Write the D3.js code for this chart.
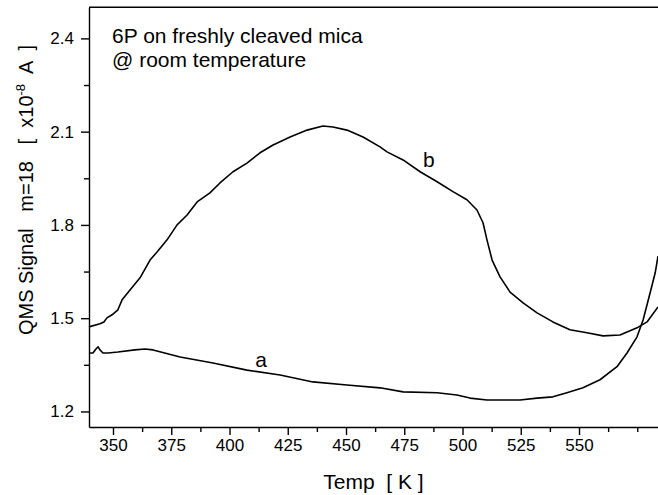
<!DOCTYPE html>
<html>
<head>
<meta charset="utf-8">
<script src="https://cdn.jsdelivr.net/npm/d3@7"></script>
<style>
  body { margin: 0; background: #fff; }
  svg { display: block; font-family: "Liberation Sans", Arial, sans-serif; }
  .axis path, .axis line { stroke: #000; stroke-width: 1.4px; }
  .axis text { font-size: 17px; fill: #000; font-family: "Liberation Sans", Arial, sans-serif; }
</style>
</head>
<body>
<script>
// temperature [K] and QMS signal [x10^-8 A]
var tempB = [339.7, 344.4, 346.1, 347.4, 349.6, 352.1, 353.9, 357.3, 361.6, 365.9, 368.9, 373.2,
  377.5, 381.8, 386.1, 391.6, 395.9, 401.5, 407.5, 413.1, 418.7, 426.0, 433.3, 440.1, 444.4,
  450.4, 457.3, 464.6, 467.6, 474.5, 481.8, 489.1, 495.9, 501.9, 506.2, 508.8, 510.5, 512.7,
  516.1, 520.4, 526.0, 532.0, 538.8, 546.1, 553.4, 560.3, 567.6, 574.9, 579.2, 583.9];
var signalB = [1.472, 1.482, 1.488, 1.501, 1.511, 1.527, 1.559, 1.591, 1.630, 1.687, 1.713, 1.752,
  1.800, 1.832, 1.874, 1.903, 1.935, 1.971, 1.999, 2.032, 2.057, 2.083, 2.105, 2.118, 2.115,
  2.105, 2.083, 2.051, 2.035, 2.009, 1.971, 1.939, 1.907, 1.881, 1.848, 1.807, 1.752, 1.687,
  1.633, 1.584, 1.549, 1.517, 1.488, 1.463, 1.453, 1.443, 1.446, 1.469, 1.488, 1.536];

var tempA = [340.1, 341.4, 342.7, 343.6, 344.4, 345.7, 347.9, 352.1, 359.4, 363.7, 367.2, 378.8,
  392.9, 407.5, 421.7, 435.8, 450.4, 464.6, 474.5, 489.1, 497.6, 503.2, 510.5, 517.4, 524.7,
  532.0, 538.8, 544.8, 551.7, 559.0, 566.3, 570.6, 574.9, 577.5, 580.5, 582.7, 583.9];
var signalA = [1.388, 1.388, 1.401, 1.408, 1.398, 1.388, 1.388, 1.391, 1.398, 1.401, 1.398, 1.375,
  1.356, 1.333, 1.317, 1.295, 1.285, 1.276, 1.263, 1.260, 1.253, 1.243, 1.237, 1.237, 1.237,
  1.243, 1.247, 1.260, 1.276, 1.302, 1.344, 1.388, 1.440, 1.494, 1.581, 1.646, 1.700];

var xTicks = [350, 375, 400, 425, 450, 475, 500, 525, 550];
var xMinor = [362.5, 387.5, 412.5, 437.5, 462.5, 487.5, 512.5, 537.5, 562.5, 575];
var yTicks = [1.2, 1.5, 1.8, 2.1, 2.4];
var yMinor = [1.35, 1.65, 1.95, 2.25];

var series = [
  {name: "a", temp: tempA, signal: signalA, labelAt: [411, 1.343]},
  {name: "b", temp: tempB, signal: signalB, labelAt: [483, 1.986]}
];

var width = 658, height = 495;
var plotLeft = 89, plotRight = 658, plotTop = 7.3, plotBottom = 427;

var x = d3.scaleLinear().domain([339.7, 583.9]).range([plotLeft, plotRight]);
var y = d3.scaleLinear().domain([1.15, 2.5]).range([plotBottom, plotTop]);

var svg = d3.select("body").append("svg")
    .attr("width", width)
    .attr("height", height);

// frame (right side runs off the picture)
svg.append("line")
    .attr("x1", plotLeft).attr("x2", plotRight + 2)
    .attr("y1", plotTop).attr("y2", plotTop)
    .attr("stroke", "#000").attr("stroke-width", 1.4);

svg.append("g").attr("class", "axis")
    .attr("transform", "translate(0," + plotBottom + ")")
    .call(d3.axisBottom(x).tickValues(xMinor).tickSize(5).tickFormat(""))
    .select(".domain").remove();

svg.append("g").attr("class", "axis")
    .attr("transform", "translate(0," + plotBottom + ")")
    .call(d3.axisBottom(x).tickValues(xTicks).tickSize(8).tickSizeOuter(0).tickPadding(4).tickFormat(d3.format("d")));

svg.append("g").attr("class", "axis")
    .attr("transform", "translate(" + plotLeft + ",0)")
    .call(d3.axisLeft(y).tickValues(yMinor).tickSize(5).tickFormat(""))
    .select(".domain").remove();

svg.append("g").attr("class", "axis")
    .attr("transform", "translate(" + plotLeft + ",0)")
    .call(d3.axisLeft(y).tickValues(yTicks).tickSize(8).tickSizeOuter(0).tickPadding(7).tickFormat(d3.format(".1f")));

var line = d3.line()
    .x(function(d) { return x(d[0]); })
    .y(function(d) { return y(d[1]); });

svg.selectAll(".curve")
    .data(series)
  .enter().append("path")
    .attr("class", "curve")
    .attr("fill", "none")
    .attr("stroke", "#000")
    .attr("stroke-width", 1.6)
    .attr("stroke-linejoin", "round")
    .attr("d", function(s) { return line(d3.zip(s.temp, s.signal)); });

svg.selectAll(".curve-label")
    .data(series)
  .enter().append("text")
    .attr("class", "curve-label")
    .attr("x", function(s) { return x(s.labelAt[0]); })
    .attr("y", function(s) { return y(s.labelAt[1]); })
    .attr("font-size", 21)
    .text(function(s) { return s.name; });

// annotation
svg.append("text")
    .attr("x", 112).attr("y", 43)
    .attr("font-size", 21)
    .text("6P on freshly cleaved mica");
svg.append("text")
    .attr("x", 112).attr("y", 67)
    .attr("font-size", 21)
    .text("@ room temperature");

// axis titles
svg.append("text")
    .attr("x", (plotLeft + plotRight) / 2).attr("y", 489)
    .attr("text-anchor", "middle")
    .attr("font-size", 21)
    .style("white-space", "pre")
    .text("Temp  [ K ]");

var yt = svg.append("text")
    .attr("transform", "translate(33,190) rotate(-90)")
    .attr("text-anchor", "middle")
    .attr("font-size", 20)
    .style("white-space", "pre");
yt.append("tspan").text("QMS Signal   m=18   [  x10");
yt.append("tspan").attr("font-size", 13).attr("dy", -8).text("-8");
yt.append("tspan").attr("dy", 8).text("  A  ]");
</script>
</body>
</html>
